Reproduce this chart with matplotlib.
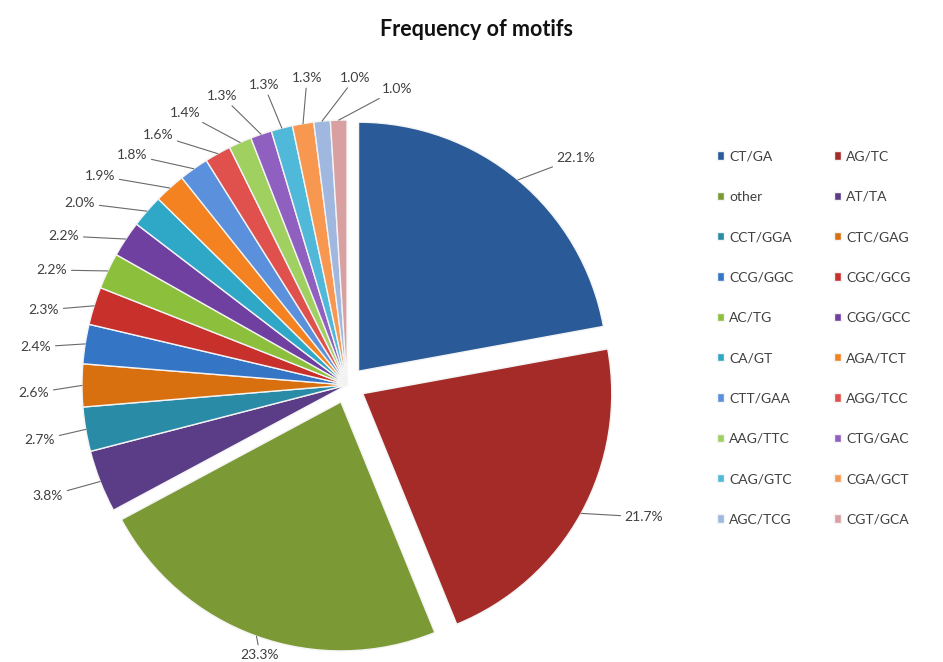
import matplotlib.pyplot as plt
import numpy as np

W, H = 943, 662

motifs = ['CT/GA', 'AG/TC', 'other', 'AT/TA', 'CCT/GGA', 'CTC/GAG', 'CCG/GGC',
          'CGC/GCG', 'AC/TG', 'CGG/GCC', 'CA/GT', 'AGA/TCT', 'CTT/GAA',
          'AGG/TCC', 'AAG/TTC', 'CTG/GAC', 'CAG/GTC', 'CGA/GCT', 'AGC/TCG',
          'CGT/GCA']
share = [22.1, 21.7, 23.3, 3.8, 2.7, 2.6, 2.4, 2.3, 2.2, 2.2, 2.0, 1.9, 1.8,
         1.6, 1.4, 1.3, 1.3, 1.3, 1.0, 1.0]

colors = ['#2b5a99', '#a52b28', '#7b9a35', '#5a3d86', '#2a8ba6', '#d9700f',
          '#3575c6', '#c8302c', '#8cbf3c', '#7040a0', '#2fa8c8', '#f58220',
          '#5a90dc', '#e0504c', '#a0d060', '#9060c0', '#50b8d8', '#f89850',
          '#a0b8e0', '#d8a0a0']

# where each percentage label sits (pixel coords, y measured from the top)
label_px = [(576, 158), (644, 517), (260, 655), (48, 496), (40, 440),
            (34, 393), (36, 347), (44, 310), (52, 270), (64, 236), (80, 203),
            (100, 176), (132, 155), (158, 135), (185, 113), (222, 96),
            (264, 85), (307, 78), (355, 78), (397, 89)]


def px(x, y):
    # pixel position -> data coords of the full-figure axes
    return x, H - y


plt.rcParams['font.family'] = ['Lato', 'DejaVu Sans']

fig = plt.figure(figsize=(W / 100, H / 100), dpi=100)
ax = fig.add_axes([0, 0, 1, 1])

explode = [18 if v > 10 else 0 for v in share]
wedges, _ = ax.pie(share, colors=colors, explode=explode, startangle=90,
                   counterclock=False, center=px(347, 385), radius=265,
                   wedgeprops=dict(edgecolor='#f4f4f4', linewidth=1.0))
# the three large slices are drawn a little smaller
for w, v in zip(wedges, share):
    if v > 10:
        w.set_radius(249)

ax.set_xlim(0, W)
ax.set_ylim(0, H)
ax.set_aspect('equal')
ax.axis('off')

for w, v, (lx, ly) in zip(wedges, share, label_px):
    mid = np.deg2rad((w.theta1 + w.theta2) / 2)
    cx, cy = w.center
    anchor = (cx + w.r * np.cos(mid), cy + w.r * np.sin(mid))
    ax.annotate(f'{v:.1f}%', xy=anchor, xytext=px(lx, ly), ha='center',
                va='center', fontsize=10, color='#404040',
                arrowprops=dict(arrowstyle='-', color='#6a6a6a', lw=0.8,
                                shrinkA=1, shrinkB=0))

# legend rows run left to right, matplotlib fills columns first
order = list(range(0, len(wedges), 2)) + list(range(1, len(wedges), 2))
leg = ax.legend([wedges[i] for i in order], [motifs[i] for i in order],
                ncol=2, loc='upper left', bbox_to_anchor=(704 / W, 1 - 138 / H),
                bbox_transform=fig.transFigure, frameon=False, fontsize=10,
                handlelength=0.55, handleheight=0.55, handletextpad=0.35,
                labelspacing=2.04, columnspacing=2.9)
for t in leg.get_texts():
    t.set_color('#404040')

fig.text(476 / W, 1 - 30 / H, 'Frequency of motifs', ha='center', va='center',
         fontsize=15.5, fontweight='bold', color='#111111')

fig.savefig('out.png', dpi=100)
